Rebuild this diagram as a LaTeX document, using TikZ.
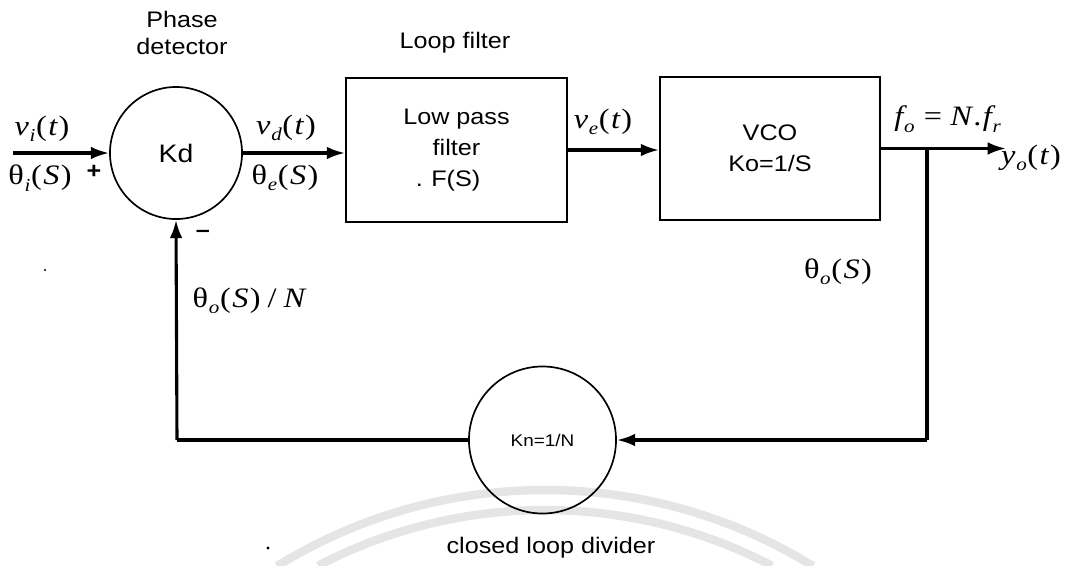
\documentclass[tikz,border=0pt]{standalone}
\usepackage{fontspec}
\setmainfont{Liberation Sans}[FakeStretch=1.12]
\newfontfamily\serif{Liberation Serif}[FakeStretch=1.15]
\usetikzlibrary{arrows.meta}
\newcommand\sbs[1]{\kern0.5pt\raisebox{-0.5ex}{\fontsize{13}{13}\selectfont\itshape #1}\kern0.5pt}
\newcommand\pp[1]{\upshape(\kern1pt\itshape #1\kern1pt\upshape)}
\tikzset{
  lbl/.style={font=\fontsize{16}{19}\selectfont, align=center, inner sep=0pt},
  mlbl/.style={font=\fontsize{20}{22}\selectfont\serif, inner sep=0pt},
  blk/.style={draw, line width=1.3pt, inner sep=0pt, align=center, font=\fontsize{16}{22}\selectfont},
  circ/.style={draw, circle, line width=1.2pt, inner sep=0pt},
  sig/.style={line width=2.2pt, -{Latex[length=13pt,width=9pt]}},
  wire/.style={line width=2.2pt},
  wm/.style={line width=6pt, gray!20}
}
\begin{document}
\begin{tikzpicture}[x={(0.025cm,0)}, y={(0,-0.025cm)}]
\useasboundingbox (0,0) rectangle (1068,566);
% faint watermark arcs
\draw[wm] (545,1000) ++(-121.7:510) arc[start angle=-121.7, end angle=-58.3, radius=510];
\draw[wm] (545,1000) ++(-117.6:490) arc[start angle=-117.6, end angle=-62.4, radius=490];

% blocks
\node[circ, minimum size=3.3cm, font=\fontsize{18}{20}\selectfont] (pd) at (176,153) {Kd};
\node[blk, minimum width=5.525cm, minimum height=3.6cm] (lpf) at (456.5,150) {Low pass\\filter\\\kern-12pt.\kern6pt F(S)};
\node[blk, minimum width=5.5cm, minimum height=3.575cm] (vco) at (770,148.5) {VCO\\Ko=1/S};
\node[circ, minimum size=3.675cm, font=\fontsize{12}{14}\selectfont] (kn) at (542.5,440) {Kn=1/N};

% titles
\node[lbl] (tpd) at (182,33) {Phase\\detector};
\node[lbl] (tlf) at (455,43) {Loop filter};
\node[lbl] (tkn) at (551,548) {closed loop divider};

% coordinates
\coordinate (in) at (13,153);
\coordinate (out) at (1006,148.5);
\coordinate (br) at (927,148.5);
\coordinate (cr) at (927,440);
\coordinate (cl) at (177,440);

% connectors
\draw[sig] (in) -- (pd.west);
\draw[sig] (pd.east) -- (pd.east -| lpf.west);
\draw[sig] (lpf.east) -- (lpf.east -| vco.west);
\draw[sig] (vco.east) -- (out);
\draw[wire] (br) -- (cr);
\draw[sig] (cr) -- (kn.east);
\draw[wire] (kn.west) -- (cl);
\draw[sig] (cl) -- (pd.south);

% signal labels
\node[mlbl] (lvi) at (42,129) {\itshape v\sbs{i}\pp{t}};
\node[mlbl] (lti) at (40,178) {θ\sbs{i}\pp{S}};
\node[font=\fontsize{16}{16}\selectfont\bfseries, inner sep=0pt] (plus) at (94,172) {+};
\node[mlbl] (lvd) at (286,128) {\itshape v\sbs{d}\pp{t}};
\node[mlbl] (lte) at (285,178) {θ\sbs{e}\pp{S}};
\node[mlbl] (lve) at (603,122) {\itshape v\sbs{e}\pp{t}};
\node[mlbl] (lfo) at (948,119) {\itshape f\sbs{o}\upshape\kern6pt=\kern6pt\itshape N\upshape\kern1pt.\kern1pt\itshape f\sbs{r}};
\node[mlbl] (lyo) at (1031,158) {\itshape y\sbs{o}\pp{t}};
\node[mlbl] (lto) at (838,272) {θ\sbs{o}\pp{S}};
\node[mlbl] (ltn) at (249,301) {θ\sbs{o}\pp{S}\kern5pt/\kern5pt\itshape N};
\node[font=\fontsize{16}{16}\selectfont\bfseries, inner sep=0pt] (minus) at (203,234) {\textendash};

% specks
\fill (268,548) circle (1.6);
\fill (45,270) circle (1.2);
\end{tikzpicture}
\end{document}
